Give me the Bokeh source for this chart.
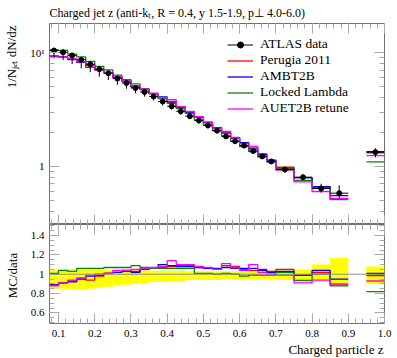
import math
from bokeh.plotting import figure
from bokeh.layouts import column, row
from bokeh.models import (ColumnDataSource, Label, Legend, LegendItem, LinearAxis,
                          LogAxis, Range1d, FixedTicker, SingleIntervalTicker, Span,
                          CustomJSTickFormatter, Title)
from bokeh.embed import file_html
from bokeh.resources import INLINE

# ---------------- data ----------------
bin_lo = [0.075, 0.1, 0.125, 0.15, 0.175, 0.2, 0.225, 0.25, 0.275, 0.3, 0.325, 0.35,
          0.375, 0.4, 0.425, 0.45, 0.475, 0.5, 0.525, 0.55, 0.575, 0.6, 0.625, 0.65,
          0.675, 0.7, 0.75, 0.8, 0.85, 0.95]
bin_hi = [0.1, 0.125, 0.15, 0.175, 0.2, 0.225, 0.25, 0.275, 0.3, 0.325, 0.35, 0.375,
          0.4, 0.425, 0.45, 0.475, 0.5, 0.525, 0.55, 0.575, 0.6, 0.625, 0.65, 0.675,
          0.7, 0.75, 0.8, 0.85, 0.9, 1.0]

data_val = [10.48, 10.12, 9.47, 8.68, 7.93, 7.17, 6.61, 5.93, 5.42, 4.89, 4.51, 4.12,
            3.72, 3.38, 3.05, 2.76, 2.53, 2.29, 2.06, 1.83, 1.66, 1.52, 1.36, 1.22,
            1.10, 0.935, 0.80, 0.636, 0.578, 1.33]
# relative data uncertainties (up / down)
data_err_up = [0.045, 0.05, 0.055, 0.05, 0.05, 0.05, 0.045, 0.045, 0.04, 0.04, 0.04, 0.035,
               0.035, 0.035, 0.035, 0.03, 0.03, 0.03, 0.03, 0.03, 0.03, 0.03, 0.03, 0.035,
               0.035, 0.04, 0.05, 0.10, 0.17, 0.08]
data_err_dn = [0.15, 0.15, 0.16, 0.16, 0.15, 0.14, 0.13, 0.12, 0.11, 0.10, 0.09, 0.08,
               0.08, 0.07, 0.07, 0.06, 0.06, 0.06, 0.06, 0.05, 0.05, 0.05, 0.05, 0.05,
               0.05, 0.06, 0.06, 0.08, 0.10, 0.10]

# MC / data ratios
ratio_perugia = [0.89, 0.91, 0.93, 0.96, 0.94, 0.98, 1.01, 1.02, 1.04, 1.03, 1.05, 1.06,
                 1.07, 1.08, 1.09, 1.09, 1.07, 1.06, 1.05, 1.09, 1.08, 1.05, 1.04, 1.05,
                 1.03, 1.05, 0.99, 1.02, 0.89, 0.985]
ratio_ambt2b = [0.89, 0.91, 0.92, 0.95, 0.98, 0.99, 1.01, 1.02, 1.03, 1.02, 1.05, 1.06,
                1.10, 1.09, 1.08, 1.08, 1.07, 1.06, 1.06, 1.07, 1.06, 1.06, 1.06, 1.04,
                1.02, 1.03, 0.99, 1.04, 0.95, 1.01]
ratio_locked = [1.01, 1.04, 1.03, 1.06, 1.06, 1.06, 1.07, 1.07, 1.07, 1.09, 1.07, 1.06,
                1.06, 1.06, 1.06, 1.06, 1.01, 1.01, 1.00, 1.01, 1.00, 0.98, 0.99, 0.99,
                0.99, 1.02, 0.935, 1.00, 0.88, 0.82]
ratio_auet2b = [0.88, 0.91, 0.94, 0.96, 0.99, 1.00, 1.01, 1.04, 1.04, 1.05, 1.06, 1.07,
                1.08, 1.14, 1.10, 1.10, 1.08, 1.07, 1.05, 1.11, 1.07, 1.04, 1.10, 1.02,
                1.00, 0.99, 0.91, 0.94, 0.90, 0.93]

mc_names = ["Perugia 2011", "AMBT2B", "Locked Lambda", "AUET2B retune"]
mc_ratios = [ratio_perugia, ratio_ambt2b, ratio_locked, ratio_auet2b]
mc_colors = ["#ff0000", "#0000ff", "#008a00", "#ff00ff"]

y_major_main = [1, 10]
y_minor_main = [0.4, 0.5, 0.6, 0.7, 0.8, 0.9, 2, 3, 4, 5, 6, 7, 8, 9]

FONT = "Liberation Serif"
TICK_COLOR = "#a8a8a8"
FRAME_COLOR = "#707070"


def step_xy(lo, hi, vals):
    xs, ys = [], []
    for i in range(len(vals)):
        if i > 0 and abs(lo[i] - hi[i - 1]) > 1e-9:
            xs.append(float("nan"))
            ys.append(float("nan"))
        xs += [lo[i], hi[i]]
        ys += [vals[i], vals[i]]
    return xs, ys


def style_axis(ax, labels):
    ax.axis_line_color = None
    ax.major_tick_in = 10
    ax.major_tick_out = 0
    ax.minor_tick_in = 5
    ax.minor_tick_out = 0
    ax.major_tick_line_color = TICK_COLOR
    ax.minor_tick_line_color = TICK_COLOR
    if labels:
        ax.major_label_text_font = FONT
        ax.major_label_text_font_size = "11px"
        ax.major_label_text_color = "black"
    else:
        ax.formatter = CustomJSTickFormatter(code="return ''")
        ax.major_label_text_font_size = "0.1px"
        ax.major_label_standoff = 0


xr = Range1d(0.075, 1.0)

# ---------------- left strip holding the rotated axis titles ----------------
strip = figure(width=24, height=358, x_range=Range1d(0, 1), y_range=Range1d(0, 1),
               x_axis_location=None, y_axis_location=None, output_backend="svg",
               toolbar_location=None, min_border=0)
strip.title = None
strip.grid.visible = False
strip.outline_line_color = None
strip.add_layout(Label(x=11, y=333, x_units="screen", y_units="screen",
                       angle=math.pi / 2, text="1/N\u2c7c\u2091\u209c dN/dz",
                       text_font=FONT, text_font_size="13px", text_align="right",
                       text_baseline="middle", text_color="black"))
strip.add_layout(Label(x=12, y=83, x_units="screen", y_units="screen",
                       angle=math.pi / 2, text="MC/data",
                       text_font=FONT, text_font_size="13px", text_align="center",
                       text_baseline="middle", text_color="black"))

# ---------------- main panel ----------------
main = figure(frame_width=335, frame_height=201, x_range=xr,
              y_range=Range1d(0.306, 18.13), y_axis_type="log",
              x_axis_location=None, output_backend="svg", toolbar_location=None,
              min_border_left=25, min_border_right=13, min_border_top=23,
              min_border_bottom=0)
main.grid.visible = False
main.outline_line_color = FRAME_COLOR
main.title.text = "Charged jet z (anti-k\u209c, R = 0.4, y 1.5-1.9, p\u22a5 4.0-6.0)"
main.title.align = "left"
main.title.offset = 0
main.title.standoff = 7
main.title.text_font = FONT
main.title.text_font_size = "12px"
main.title.text_font_style = "normal"
main.title.text_color = "black"

ly = main.yaxis[0]
ly.ticker = FixedTicker(ticks=y_major_main, minor_ticks=y_minor_main)
ly.major_label_overrides = {10: "10\u00b9", 1: "1"}
ly.major_label_standoff = 5
style_axis(ly, True)

ry = LogAxis(ticker=FixedTicker(ticks=y_major_main, minor_ticks=y_minor_main))
style_axis(ry, False)
main.add_layout(ry, "right")

for loc in ("above", "below"):
    ax = LinearAxis(ticker=SingleIntervalTicker(interval=0.1, num_minor_ticks=5))
    style_axis(ax, False)
    main.add_layout(ax, loc)

mc_main_renderers = []
for name, rat, col in zip(mc_names, mc_ratios, mc_colors):
    vals = [d * r for d, r in zip(data_val, rat)]
    xs, ys = step_xy(bin_lo, bin_hi, vals)
    r = main.line(xs, ys, line_color=col, line_width=1.3)
    mc_main_renderers.append(r)

xc = [(a + b) / 2 for a, b in zip(bin_lo, bin_hi)]
dsrc = ColumnDataSource(dict(
    lo=bin_lo, hi=bin_hi, xc=xc, val=data_val,
    top=[v * (1 + e) for v, e in zip(data_val, data_err_up)],
    bot=[v * (1 - e) for v, e in zip(data_val, data_err_dn)],
))
hbar = main.segment(x0="lo", y0="val", x1="hi", y1="val", source=dsrc,
                    line_color="black", line_width=1)
main.segment(x0="xc", y0="bot", x1="xc", y1="top", source=dsrc,
             line_color="black", line_width=1)
pts = main.scatter("xc", "val", source=dsrc, size=5, color="black")

items = [LegendItem(label="ATLAS data", renderers=[hbar, pts])]
for name, r in zip(mc_names, mc_main_renderers):
    items.append(LegendItem(label=name, renderers=[r]))
legend = Legend(items=items, location="top_right", padding=0, margin=13, spacing=0,
                glyph_width=26, glyph_height=15, label_height=15, label_standoff=7,
                label_width=111,
                label_text_font=FONT, label_text_font_size="13.5px",
                label_text_color="black",
                border_line_color=None, background_fill_alpha=0)
main.add_layout(legend)

# ---------------- ratio panel ----------------
ratio = figure(frame_width=335, frame_height=99, x_range=xr,
               y_range=Range1d(0.49, 1.515), output_backend="svg",
               toolbar_location=None, min_border_left=25, min_border_right=13,
               min_border_top=0, min_border_bottom=35)
ratio.title = None
ratio.grid.visible = False
ratio.outline_line_color = FRAME_COLOR

bx = ratio.xaxis[0]
bx.ticker = SingleIntervalTicker(interval=0.1, num_minor_ticks=5)
bx.major_label_overrides = {1: "1.0"}
bx.major_label_standoff = 6
style_axis(bx, True)

tx = LinearAxis(ticker=SingleIntervalTicker(interval=0.1, num_minor_ticks=5))
style_axis(tx, False)
ratio.add_layout(tx, "above")

lyr = ratio.yaxis[0]
lyr.ticker = SingleIntervalTicker(interval=0.2, num_minor_ticks=4)
lyr.major_label_overrides = {1: "1"}
lyr.major_label_standoff = 5
style_axis(lyr, True)

ryr = LinearAxis(ticker=SingleIntervalTicker(interval=0.2, num_minor_ticks=4))
style_axis(ryr, False)
ratio.add_layout(ryr, "right")

bsrc = ColumnDataSource(dict(
    lo=bin_lo, hi=bin_hi,
    top=[1 + e for e in data_err_up],
    bot=[1 - e for e in data_err_dn],
))
ratio.quad(left="lo", right="hi", top="top", bottom="bot", source=bsrc,
           fill_color="#ffff00", line_color=None)
ratio.add_layout(Span(location=1, dimension="width", line_color="#909090", line_width=1))

for rat, col in zip(mc_ratios, mc_colors):
    xs, ys = step_xy(bin_lo, bin_hi, rat)
    ratio.line(xs, ys, line_color=col, line_width=1.3)

ratio.add_layout(Title(text="Charged particle z", align="right", offset=1, standoff=0,
                       text_font=FONT, text_font_size="13px", text_font_style="normal",
                       text_color="black"), "below")

layout = row(strip, column(main, ratio, spacing=0), spacing=0)
open("out.html", "w").write(file_html(layout, INLINE))
